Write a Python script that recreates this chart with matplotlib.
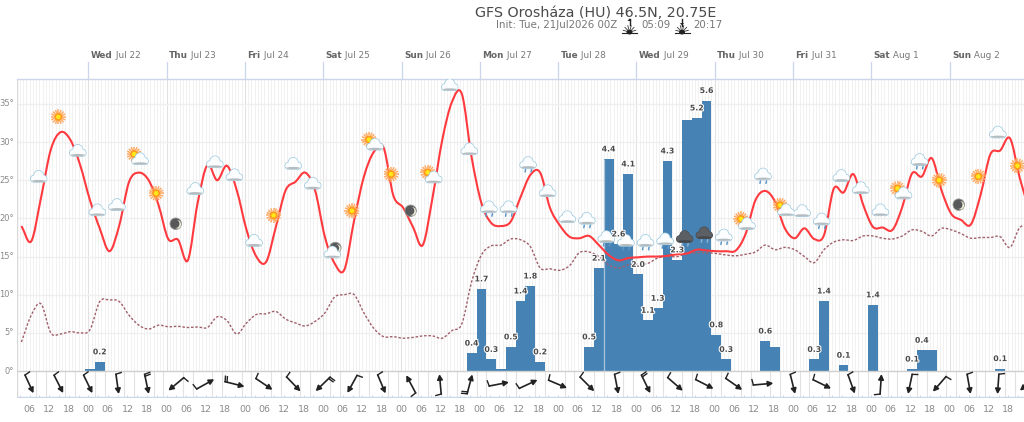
# GFS meteogram, Oroshaza
import numpy as np
import matplotlib
matplotlib.use("Agg")
import matplotlib.pyplot as plt
import matplotlib.patheffects as pe
from matplotlib.collections import LineCollection
from matplotlib.patches import Ellipse, PathPatch, Polygon
from matplotlib.path import Path

# hours are counted from Tue 21 Jul 00Z, series start at 03:30 and step by 3 h
temp = [19.0, 17.0, 22.7, 29.0, 31.3, 30.3, 27.0, 22.4, 18.7, 15.7, 19.1, 24.8, 26.0, 25.0, 21.8,
        17.3, 17.2, 14.5, 22.0, 27.0, 25.0, 26.9, 23.7, 18.5, 15.0, 14.3, 18.9, 23.7, 24.8, 26.0,
        23.7, 17.6, 14.1, 13.3, 19.8, 25.5, 28.7, 29.3, 23.0, 21.4, 18.9, 16.5, 22.7, 30.3, 35.3,
        36.3, 28.0, 22.0, 19.4, 19.0, 19.6, 22.8, 25.7, 26.0, 21.4, 19.1, 17.6, 17.4, 17.7, 16.5,
        15.2, 14.5, 14.8, 14.9, 15.0, 15.0, 15.1, 15.3, 15.4, 15.9, 15.8, 15.7, 15.7, 15.8, 18.0,
        22.4, 23.6, 22.2, 18.7, 17.4, 18.7, 17.3, 17.8, 23.9, 23.4, 25.8, 21.8, 18.9, 18.8, 18.5,
        21.5, 25.9, 25.5, 27.9, 23.7, 20.6, 19.8, 19.2, 23.1, 28.4, 28.9, 30.5, 25.3, 21.0]
dewpoint = [3.8, 7.3, 8.8, 5.0, 4.85, 5.15, 5.0, 5.4, 9.1, 9.3, 9.1, 7.3, 6.0, 5.5, 6.0,
            5.8, 5.85, 5.7, 5.77, 5.7, 7.1, 6.6, 4.85, 6.3, 7.4, 7.5, 7.8, 6.8, 6.3, 5.9,
            6.5, 7.6, 9.7, 10.0, 10.0, 7.6, 5.6, 4.5, 4.5, 4.3, 4.4, 4.6, 4.6, 4.3, 5.3,
            6.2, 11.7, 15.2, 16.4, 16.5, 17.3, 17.2, 16.3, 13.5, 13.4, 13.2, 13.8, 15.5, 15.6, 15.0,
            13.9, 13.5, 13.9, 14.0, 14.1, 14.8, 15.0, 15.0, 15.4, 15.5, 15.5, 15.4, 15.2, 15.1, 15.3,
            15.6, 16.5, 15.9, 16.2, 15.9, 15.0, 14.2, 15.9, 16.9, 17.2, 17.1, 17.7, 17.7, 17.4, 17.3,
            17.7, 18.5, 18.3, 17.7, 18.7, 18.5, 18.0, 17.4, 17.5, 17.5, 17.6, 16.2, 18.8, 19.0]

rain_hours = [24.5, 27.5, 141.5, 144.5, 147.5, 150.5, 153.5, 156.5, 159.5, 162.5, 177.5, 180.5,
              183.5, 186.5, 189.5, 192.5, 195.5, 198.5, 201.5, 204.5, 207.5, 210.5, 213.5, 216.5,
              219.5, 231.5, 234.5, 246.5, 249.5, 255.5, 264.5, 276.5, 279.5, 282.5, 303.5]
rain_values = [0.04, 0.19, 0.37, 1.7, 0.24, 0.05, 0.5, 1.45, 1.76, 0.19, 0.5, 2.13,
               4.39, 2.63, 4.08, 2.0, 1.05, 1.3, 4.35, 2.3, 5.2, 5.24, 5.6, 0.75,
               0.24, 0.62, 0.5, 0.24, 1.45, 0.12, 1.37, 0.04, 0.43, 0.43, 0.05]
rain_labels = ["", "0.2", "0.4", "1.7", "0.3", "", "0.5", "1.4", "1.8", "0.2", "0.5", "2.1",
               "4.4", "2.6", "4.1", "2.0", "1.1", "1.3", "4.3", "2.3", "", "5.2", "5.6", "0.8",
               "0.3", "0.6", "", "0.3", "1.4", "0.1", "1.4", "0.1", "0.4", "", "0.1"]

# one icon every 6 h
icon_values = [25.4, 33.3, 28.8, 21.0, 21.7, 28.1, 23.3, 19.3, 23.8, 27.3, 25.6, 17.0, 20.4,
               27.1, 24.5, 15.6, 21.0, 30.0, 25.8, 21.0, 25.7, 37.4, 29.0, 21.4, 21.4, 27.2,
               23.5, 20.1, 19.9, 17.5, 17.0, 17.0, 17.2, 17.5, 18.0, 17.7, 19.6, 25.7, 21.4,
               20.9, 19.8, 25.5, 23.9, 21.0, 23.6, 27.6, 25.0, 21.8, 25.5, 31.2, 26.9]
icon_kinds = ["cloud", "sun", "cloud", "cloud", "cloud", "suncloud", "sun", "moon", "cloud", "cloud",
              "cloud", "cloud", "sun", "cloud", "cloud", "mooncloud", "sun", "suncloud", "sun", "moon",
              "suncloud", "cloud", "cloud", "rain", "rain", "rain", "cloud", "cloud", "rain", "rain",
              "rain", "rain", "rain", "storm", "storm", "rain", "suncloud", "rain", "suncloud", "cloud",
              "rain", "cloud", "cloud", "cloud", "suncloud", "rain", "sun", "moon", "sun", "cloud", "sun"]

# one arrow every 9 h: heading in degrees (0 = east, counter clockwise), number of feathers
wind_heading = [-65, -63, -64, -82, -78, -140, 29, -14, -34, -46, -136, -119, -67, 118, 95, 75, 11, 25,
                -23, -45, -79, -64, -41, -27, -35, 5, -76, -26, -70, 86, -102, -131, -80, -94, -140]
wind_feathers = [1, 1, 1, 1, 2, 1, 1, 2, 1, 1, 2, 1, 1, 1, 1, 2, 1, 1,
                 1, 1, 1, 2, 1, 1, 1, 1, 1, 1, 1, 1, 1, 1, 1, 1, 1]

day_names = ["Wed", "Thu", "Fri", "Sat", "Sun", "Mon", "Tue", "Wed", "Thu", "Fri", "Sat", "Sun"]
day_dates = ["Jul 22", "Jul 23", "Jul 24", "Jul 25", "Jul 26", "Jul 27",
             "Jul 28", "Jul 29", "Jul 30", "Jul 31", "Aug 1", "Aug 2"]
temp_ticks = [0, 5, 10, 15, 20, 25, 30, 35]

W, H = 1024, 422
LEFT, TOP, BOTTOM = 16.5, 78.5, 397.5
PX_H = 3.2625   # pixels per hour
PX_Y = 7.63     # pixels per degree
X0 = 10.0       # pixel of hour 0
Y0 = 371.0      # pixel of 0 degrees
RAIN_SCALE = 48.3 / PX_Y  # degrees of axis per mm

GREY = "#8a8a8a"
AXIS_BLUE = "#ccd6eb"


def smooth_path(x, y):
    # bezier through the points, the way the web chart draws a spline
    x, y = np.asarray(x, float), np.asarray(y, float)
    dy = np.gradient(y, x)
    step = (x[1] - x[0]) / 3
    verts = [(x[0], y[0])]
    codes = [Path.MOVETO]
    for i in range(len(x) - 1):
        verts += [(x[i] + step, y[i] + dy[i] * step), (x[i + 1] - step, y[i + 1] - dy[i + 1] * step), (x[i + 1], y[i + 1])]
        codes += [Path.CURVE4] * 3
    return Path(verts, codes)


def blob(ax, h, t, dx, dy, w, ht, color, z, ec="none", lw=0):
    # ellipse placed and sized in pixels around a data point
    ax.add_patch(Ellipse((h + dx / PX_H, t - dy / PX_Y), w / PX_H, ht / PX_Y, fc=color, ec=ec, lw=lw, zorder=z))


def draw_sun(ax, h, t, dx=0, dy=0, r=7.5, z=10):
    segs = []
    for a in np.deg2rad(np.arange(0, 360, 22.5)):
        segs.append([(h + (dx + 0.55 * r * np.cos(a)) / PX_H, t - (dy + 0.55 * r * np.sin(a)) / PX_Y),
                     (h + (dx + r * np.cos(a)) / PX_H, t - (dy + r * np.sin(a)) / PX_Y)])
    ax.add_collection(LineCollection(segs, colors="#ffab66", linewidths=1.1, zorder=z))
    blob(ax, h, t, dx, dy, r * 1.1, r * 1.1, "#ff9a1f", z + 0.1)
    blob(ax, h, t, dx, dy, r * 0.6, r * 0.6, "#ffe81a", z + 0.2)


def draw_moon(ax, h, t, dx=0, dy=0, z=10):
    blob(ax, h, t, dx, dy, 11.5, 11.5, "#56585a", z, ec="#9a9a94", lw=0.6)
    blob(ax, h, t, dx + 1.6, dy + 0.6, 7.5, 8.5, "#ecebd6", z + 0.1)
    blob(ax, h, t, dx + 0.1, dy + 0.1, 7.2, 8.2, "#56585a", z + 0.2)


def draw_cloud(ax, h, t, dx=0, dy=0, dark=False, z=11):
    fill = "#5c6064" if dark else "#fbfdfe"
    edge = "#4a4e52" if dark else "#9cc9de"
    base = "#44484c" if dark else "#b4bcc0"
    parts = [(-4.5, 1.5, 7, 6.5), (0, -1.5, 9.5, 10), (4.5, 1.5, 7, 6.5), (0, 2.2, 15, 5)]
    for ox, oy, w, ht in parts:
        blob(ax, h, t, dx + ox, dy + oy, w, ht, edge, z, ec=edge, lw=1.0)
    for ox, oy, w, ht in parts:
        blob(ax, h, t, dx + ox, dy + oy, w, ht, fill, z + 0.1)
    blob(ax, h, t, dx, dy + 3.8, 14, 2.2, base, z + 0.2)


def draw_drops(ax, h, t, dark=False, z=11):
    for ox in (-3, 3):
        ax.plot([h + (ox + 0.5) / PX_H, h + ox / PX_H], [t - 6 / PX_Y, t - 8.5 / PX_Y],
                color="#5f98c8" if not dark else "#8fb4d0", lw=1.1, zorder=z, solid_capstyle="round")


def draw_icon(ax, h, t, kind):
    if kind == "sun":
        draw_sun(ax, h, t)
    elif kind == "moon":
        draw_moon(ax, h, t)
    elif kind == "cloud":
        draw_cloud(ax, h, t)
    elif kind == "suncloud":
        draw_sun(ax, h, t, -2.5, -2.5)
        draw_cloud(ax, h, t, 3.5, 3)
    elif kind == "mooncloud":
        draw_moon(ax, h, t, 3, -4)
        draw_cloud(ax, h, t, 0, 1)
    elif kind == "rain":
        draw_drops(ax, h, t)
        draw_cloud(ax, h, t)
    elif kind == "storm":
        draw_drops(ax, h, t, dark=True)
        draw_cloud(ax, h, t, dark=True)


def draw_wind(ax, h, heading, feathers):
    t = -1.72  # middle of the strip below the 0 line
    a = np.deg2rad(heading)
    half = 10.0
    ux, uy = np.cos(a), np.sin(a)
    tail = (h - half * ux / PX_H, t - half * uy / PX_Y)
    head = (h + half * ux / PX_H, t + half * uy / PX_Y)
    ax.annotate("", xy=head, xytext=tail, zorder=9,
                arrowprops=dict(arrowstyle="-|>,head_length=0.3,head_width=0.16", color="#222222",
                                lw=1.2, shrinkA=0, shrinkB=0))
    b = a + np.deg2rad(100)
    for i in range(feathers):
        ox = ux * 2.0 * i
        oy = uy * 2.0 * i
        ax.plot([tail[0] + ox / PX_H, tail[0] + (ox + 5.5 * np.cos(b)) / PX_H],
                [tail[1] + oy / PX_Y, tail[1] + (oy + 5.5 * np.sin(b)) / PX_Y],
                color="#222222", lw=1.0, zorder=9)


fig = plt.figure(figsize=(W / 100, H / 100), dpi=100)
ax = fig.add_axes([LEFT / W, 1 - BOTTOM / H, (W - LEFT) / W, (BOTTOM - TOP) / H])
ax.set_xlim((LEFT - X0) / PX_H, (W - X0) / PX_H)
ax.set_ylim((Y0 - BOTTOM) / PX_Y, (Y0 - TOP) / PX_Y)
for side in ("right", "bottom", "left"):
    ax.spines[side].set_visible(False)
ax.spines["top"].set_color(AXIS_BLUE)
ax.spines["top"].set_linewidth(1.0)
ax.set_xticks([])
ax.set_yticks([])

ymin, ymax = ax.get_ylim()
xmin, xmax = ax.get_xlim()
n_days = len(day_names)

# grid
ax.vlines(np.arange(3, 312), 0, ymax, color="#f1f1f1", lw=0.7, zorder=1)
day_hours = [24 * (i + 1) for i in range(n_days)]
ax.vlines(day_hours, 0, ymax, color="#e2e2e2", lw=0.8, zorder=1.1)
ax.hlines(temp_ticks[1:], xmin, xmax, color="#efefef", lw=0.9, zorder=1.2)
ax.hlines(0, xmin, xmax, color="#cfcfcf", lw=1.0, zorder=3.5)
ax.vlines(xmin + 0.1, ymin, ymax, color="#d8d8d8", lw=1.0, zorder=1.2)

# wind strip grid and ticks
ax.vlines(np.arange(8, 312, 9), ymin, 0, color="#e2e2e2", lw=0.8, zorder=1)
ax.vlines(np.arange(11, 312, 9), ymin, 0, color="#e2e2e2", lw=0.8, zorder=1)
ax.vlines(np.arange(3, 312, 3), ymin, ymin + 3 / PX_Y, color=AXIS_BLUE, lw=0.7, zorder=1.3)
ax.hlines(ymin + 0.5 / PX_Y, xmin, xmax, color=AXIS_BLUE, lw=1.0, zorder=1.3)

# rain
rain_heights = [v * RAIN_SCALE for v in rain_values]
ax.bar(rain_hours, rain_heights, width=3.0, color="#4682b4", lw=0, zorder=3)
ax.vlines(182.0, 0, 4.39 * RAIN_SCALE, color="#a9c3da", lw=0.9, zorder=3.1)

# dew point and temperature
series_hours = [3.5 + 3 * i for i in range(len(temp))]
ax.add_patch(PathPatch(smooth_path(series_hours, dewpoint), fc="none", ec="#a0606a",
                       lw=1.0, ls=(0, (1.8, 1.3)), zorder=5))
ax.add_patch(PathPatch(smooth_path(series_hours, temp), fc="none", ec="#ff3a3f", lw=1.5, zorder=6))

# wind arrows
for i, (heading, count) in enumerate(zip(wind_heading, wind_feathers)):
    draw_wind(ax, 5.9 + 9 * i, heading, count)

# weather icons
for i, (value, kind) in enumerate(zip(icon_values, icon_kinds)):
    draw_icon(ax, 8.8 + 6 * i, value, kind)

# rain labels
halo = [pe.withStroke(linewidth=1.5, foreground="white")]
for h, v, text in zip(rain_hours, rain_heights, rain_labels):
    if text:
        ax.annotate(text, (h, v), xytext=(0, 10), textcoords="offset pixels", ha="center", va="center",
                    fontsize=5.6, fontweight="bold", color="#4a4a4a", path_effects=halo, zorder=14)

# temperature axis labels
for v in temp_ticks:
    ax.annotate(f"{v}°", (xmin, v), xytext=(-2.5, 0), textcoords="offset pixels", ha="right", va="center",
                fontsize=6, color=GREY, annotation_clip=False)

# hour labels under the strip
for i, h in enumerate(range(6, 311, 6)):
    ax.annotate(f"{h % 24:02d}", (h, ymin), xytext=(0, -12.5), textcoords="offset pixels", ha="center",
                va="center", fontsize=6.8, color=GREY, annotation_clip=False)

# header layer in pixel coordinates
top = fig.add_axes([0, 0, 1, 1], facecolor="none")
top.set_xlim(0, W)
top.set_ylim(H, 0)
top.axis("off")
top.text(595.5, 13, "GFS Orosháza (HU) 46.5N, 20.75E", ha="center", va="center", fontsize=10.3, color="#4a4a4a")
top.text(495.5, 25.5, "Init: Tue, 21Jul2026 00Z", ha="left", va="center", fontsize=7.4, color="#777777")
top.text(641, 25.5, "05:09", ha="left", va="center", fontsize=7.4, color="#777777")
top.text(693, 25.5, "20:17", ha="left", va="center", fontsize=7.4, color="#777777")


def sun_mark(x, up):
    # small sunrise / sunset glyph next to the times
    top.plot([x - 7.5, x + 7.5], [33, 33], color="#222222", lw=0.8)
    for a in np.deg2rad(np.arange(15, 180, 30)):
        top.plot([x + 3 * np.cos(a), x + 6.5 * np.cos(a)], [32 - 3 * np.sin(a), 32 - 6.5 * np.sin(a)],
                 color="#333333", lw=0.6)
    top.add_patch(Ellipse((x, 32), 6, 5, fc="#222222", ec="none"))
    tip, back = (18.5, 25) if up else (25.5, 19)
    top.plot([x, x], [back, tip], color="#222222", lw=1.0)
    d = 2.5 if up else -2.5
    top.add_patch(Polygon([(x - 2, tip + d), (x + 2, tip + d), (x, tip)], fc="#222222", ec="none"))


sun_mark(629.5, True)
sun_mark(682, False)

# day ticks and labels above the plot
for h, name, date in zip(day_hours, day_names, day_dates):
    x = X0 + PX_H * h
    top.plot([x, x], [62, TOP], color=AXIS_BLUE, lw=0.9)
    t1 = top.text(x + 2.5, 55.5, name, ha="left", va="center", fontsize=6.4, fontweight="bold", color="#666666")
    top.annotate(" " + date, xy=(1, 0), xycoords=t1, va="bottom", fontsize=6.4, color="#777777")

fig.savefig("out.png", dpi=100)
